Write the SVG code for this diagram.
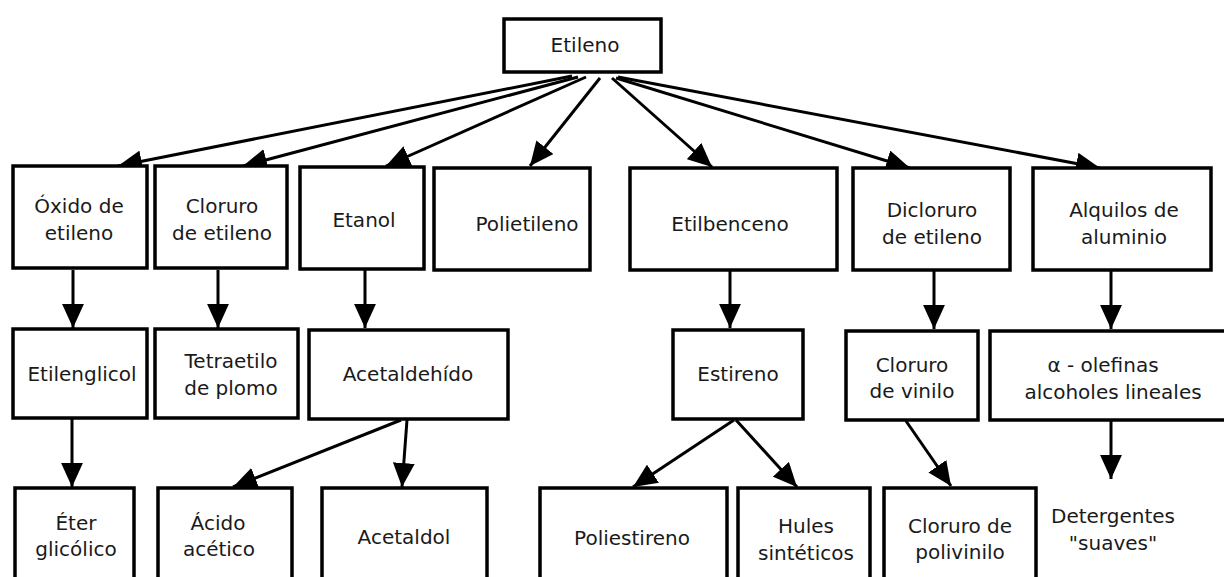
<svg xmlns="http://www.w3.org/2000/svg" width="1224" height="577" viewBox="0 0 1224 577">
<style>
.box{fill:#fff;stroke:#000;stroke-width:3.5}
.t{font-family:"DejaVu Sans",Verdana,sans-serif;font-size:20px;fill:#1a1a1a;text-anchor:middle}
.c{stroke:#000;stroke-width:3;fill:none;marker-end:url(#ah)}
</style>
<defs>
<marker id="ah" markerUnits="userSpaceOnUse" markerWidth="24" markerHeight="22" refX="22" refY="10" orient="auto" viewBox="0 0 22 20">
<path d="M0,0 L22,10 L0,20 z" fill="#000"/>
</marker>
</defs>
<rect width="1224" height="577" fill="#fff"/>
<g id="connectors">
<line class="c" x1="572" y1="76" x2="118" y2="166"/>
<line class="c" x1="578" y1="77" x2="243" y2="166"/>
<line class="c" x1="586" y1="77" x2="386" y2="166"/>
<line class="c" x1="600" y1="78" x2="530" y2="166"/>
<line class="c" x1="612" y1="78" x2="712" y2="167"/>
<line class="c" x1="616" y1="78" x2="910" y2="168"/>
<line class="c" x1="618" y1="77" x2="1100" y2="168"/>
<line class="c" x1="73" y1="270" x2="73" y2="328"/>
<line class="c" x1="218" y1="270" x2="218" y2="328"/>
<line class="c" x1="365" y1="270" x2="365" y2="328"/>
<line class="c" x1="730" y1="271" x2="730" y2="328"/>
<line class="c" x1="934" y1="271" x2="934" y2="329"/>
<line class="c" x1="1111" y1="271" x2="1111" y2="329"/>
<line class="c" x1="72" y1="419" x2="72" y2="487"/>
<line class="c" x1="401" y1="420" x2="233" y2="487"/>
<line class="c" x1="407" y1="420" x2="402" y2="487"/>
<line class="c" x1="734" y1="420" x2="633" y2="487"/>
<line class="c" x1="736" y1="420" x2="797" y2="487"/>
<line class="c" x1="906" y1="421" x2="951" y2="486"/>
<line class="c" x1="1111" y1="420" x2="1111" y2="479"/>
</g>
<g id="n-etileno"><rect class="box" x="504" y="19" width="157" height="53"/><text class="t" x="585" y="52">Etileno</text></g>
<g id="n-oxido"><rect class="box" x="13" y="166" width="134" height="102"/><text class="t" x="79" y="213">Óxido de</text><text class="t" x="79" y="240">etileno</text></g>
<g id="n-cloruro-etileno"><rect class="box" x="155" y="166" width="132" height="102"/><text class="t" x="222" y="213">Cloruro</text><text class="t" x="222" y="240">de etileno</text></g>
<g id="n-etanol"><rect class="box" x="300" y="167" width="124" height="102"/><text class="t" x="364" y="227">Etanol</text></g>
<g id="n-polietileno"><rect class="box" x="434" y="168" width="156" height="102"/><text class="t" x="527" y="231">Polietileno</text></g>
<g id="n-etilbenceno"><rect class="box" x="630" y="168" width="207" height="102"/><text class="t" x="730" y="231">Etilbenceno</text></g>
<g id="n-dicloruro"><rect class="box" x="853" y="168" width="157" height="102"/><text class="t" x="932" y="217">Dicloruro</text><text class="t" x="932" y="244">de etileno</text></g>
<g id="n-alquilos"><rect class="box" x="1033" y="168" width="178" height="102"/><text class="t" x="1124" y="217">Alquilos de</text><text class="t" x="1124" y="244">aluminio</text></g>
<g id="n-etilenglicol"><rect class="box" x="13" y="329" width="134" height="89"/><text class="t" x="82" y="381">Etilenglicol</text></g>
<g id="n-tetraetilo"><rect class="box" x="155" y="329" width="143" height="89"/><text class="t" x="231" y="368">Tetraetilo</text><text class="t" x="231" y="395">de plomo</text></g>
<g id="n-acetaldehido"><rect class="box" x="309" y="330" width="199" height="89"/><text class="t" x="408" y="381">Acetaldehído</text></g>
<g id="n-estireno"><rect class="box" x="673" y="330" width="130" height="89"/><text class="t" x="738" y="381">Estireno</text></g>
<g id="n-cloruro-vinilo"><rect class="box" x="846" y="331" width="132" height="89"/><text class="t" x="912" y="372">Cloruro</text><text class="t" x="912" y="398">de vinilo</text></g>
<g id="n-olefinas"><rect class="box" x="990" y="331" width="238" height="89"/><text class="t" x="1103" y="372">α - olefinas</text><text class="t" x="1113" y="399">alcoholes lineales</text></g>
<g id="n-eter"><rect class="box" x="15" y="488" width="119" height="92"/><text class="t" x="76" y="530">Éter</text><text class="t" x="76" y="556">glicólico</text></g>
<g id="n-acido"><rect class="box" x="158" y="488" width="134" height="92"/><text class="t" x="218" y="530">Ácido</text><text class="t" x="219" y="556">acético</text></g>
<g id="n-acetaldol"><rect class="box" x="322" y="488" width="165" height="92"/><text class="t" x="404" y="544">Acetaldol</text></g>
<g id="n-poliestireno"><rect class="box" x="540" y="488" width="187" height="92"/><text class="t" x="632" y="545">Poliestireno</text></g>
<g id="n-hules"><rect class="box" x="738" y="488" width="132" height="92"/><text class="t" x="806" y="533">Hules</text><text class="t" x="806" y="560">sintéticos</text></g>
<g id="n-polivinilo"><rect class="box" x="884" y="488" width="152" height="92"/><text class="t" x="960" y="533">Cloruro de</text><text class="t" x="960" y="559">polivinilo</text></g>
<g id="n-detergentes"><text class="t" x="1113" y="523">Detergentes</text><text class="t" x="1113" y="550">"suaves"</text></g>
</svg>
